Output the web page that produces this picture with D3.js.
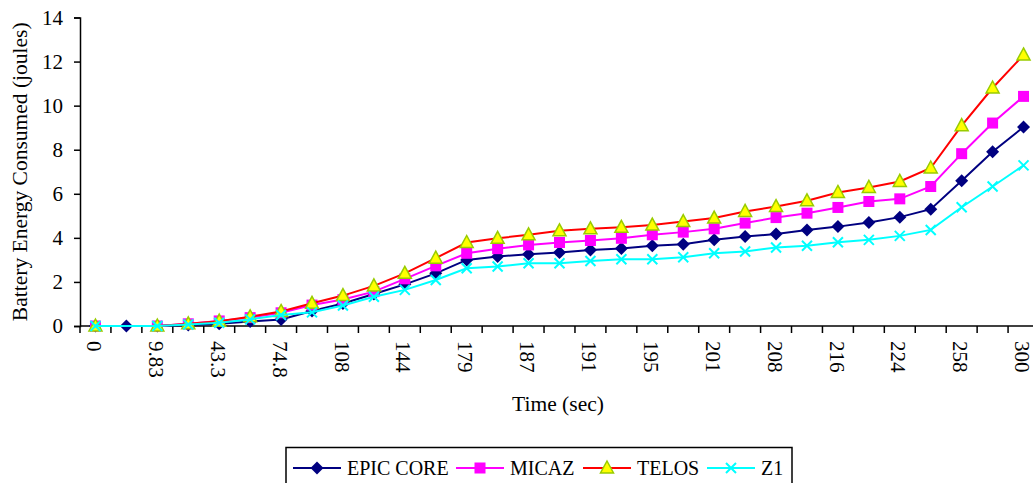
<!DOCTYPE html>
<html>
<head>
<meta charset="utf-8">
<script src="https://cdn.jsdelivr.net/npm/d3@7/dist/d3.min.js"></script>
<style>
  html, body { margin: 0; padding: 0; background: #fff; }
  svg { display: block; }
  text { font-family: "Liberation Serif", "Times New Roman", serif; fill: #000; }
</style>
</head>
<body>
<svg id="chart"></svg>
<script>
// ── Data ─────────────────────────────────────────────
// 31 time samples; only every other one carries a label on the axis
const timeLabels = ['0', '', '9.83', '', '43.3', '', '74.8', '', '108', '', '144', '',
                    '179', '', '187', '', '191', '', '195', '', '201', '', '208', '',
                    '216', '', '224', '', '258', '', '300'];

const epicCore = [0, 0, 0, 0.05, 0.1, 0.2, 0.3, 0.68, 1.02, 1.45, 1.89, 2.39, 3.0, 3.15, 3.26, 3.33,
                  3.45, 3.52, 3.64, 3.71, 3.91, 4.06, 4.17, 4.36, 4.51, 4.7, 4.94, 5.3, 6.59, 7.91, 9.03];
const micaz    = [0, null, 0, 0.1, 0.23, 0.38, 0.6, 0.95, 1.2, 1.56, 2.14, 2.73, 3.3, 3.51, 3.68, 3.79,
                  3.88, 3.98, 4.14, 4.26, 4.41, 4.67, 4.92, 5.12, 5.38, 5.65, 5.77, 6.33, 7.82, 9.21, 10.42];
const telos    = [0, null, 0, 0.1, 0.22, 0.42, 0.66, 1.03, 1.38, 1.82, 2.39, 3.08, 3.79, 3.98, 4.14, 4.32,
                  4.41, 4.48, 4.58, 4.74, 4.9, 5.2, 5.42, 5.68, 6.06, 6.29, 6.56, 7.17, 9.09, 10.8, 12.3];
const z1       = [0, null, 0, 0.07, 0.15, 0.3, 0.5, 0.62, 0.93, 1.33, 1.64, 2.09, 2.62, 2.7, 2.85, 2.85,
                  2.95, 3.03, 3.03, 3.12, 3.3, 3.38, 3.56, 3.64, 3.8, 3.91, 4.09, 4.36, 5.39, 6.33, 7.29];

const yTicks = [0, 2, 4, 6, 8, 10, 12, 14];

const series = [
  { name: 'EPIC CORE', values: epicCore, color: '#000080', marker: 'diamond' },
  { name: 'MICAZ',     values: micaz,    color: '#ff00ff', marker: 'square' },
  { name: 'TELOS',     values: telos,    color: '#ff0000', marker: 'triangle' },
  { name: 'Z1',        values: z1,       color: '#00ffff', marker: 'cross' },
];

// ── Layout ───────────────────────────────────────────
const W = 1033, H = 483;
const plotLeft = 80, plotTop = 17.5, plotBottom = 326, plotRight = 1039;

const svg = d3.select('#chart').attr('width', W).attr('height', H);

const x = d3.scaleBand()
  .domain(d3.range(timeLabels.length))
  .range([plotLeft, plotRight])
  .paddingInner(0).paddingOuter(0);
const cx = i => x(i) + x.bandwidth() / 2;

const y = d3.scaleLinear().domain([0, 14]).range([plotBottom, plotTop]);

// ── Y axis ───────────────────────────────────────────
const yAxis = svg.append('g')
  .attr('transform', `translate(${plotLeft},0)`)
  .call(d3.axisLeft(y).tickValues(yTicks).tickSize(6).tickPadding(11).tickFormat(d3.format('d')));
yAxis.select('.domain').attr('stroke', '#000').attr('stroke-width', 1.5);
yAxis.selectAll('.tick line').attr('stroke', '#000').attr('stroke-width', 1.5);
yAxis.selectAll('.tick text')
  .attr('font-size', 21).attr('font-family', '"Liberation Serif", serif').attr('fill', '#000');

svg.append('text')
  .attr('transform', `translate(27,${(plotTop + plotBottom) / 2}) rotate(-90)`)
  .attr('text-anchor', 'middle')
  .attr('font-size', 21.5)
  .text('Battery Energy Consumed (joules)');

// ── X axis (category ticks between points) ───────────
const xAxisG = svg.append('g');
xAxisG.append('line')
  .attr('x1', plotLeft).attr('x2', W)
  .attr('y1', plotBottom).attr('y2', plotBottom)
  .attr('stroke', '#000').attr('stroke-width', 1.5);

xAxisG.selectAll('line.tick')
  .data(d3.range(timeLabels.length + 1))
  .join('line')
    .attr('class', 'tick')
    .attr('x1', i => (i < timeLabels.length ? x(i) : plotRight))
    .attr('x2', i => (i < timeLabels.length ? x(i) : plotRight))
    .attr('y1', plotBottom).attr('y2', plotBottom + 7)
    .attr('stroke', '#000').attr('stroke-width', 1.5);

xAxisG.selectAll('text')
  .data(timeLabels.map((t, i) => ({ t, i })).filter(d => d.t !== ''))
  .join('text')
    .attr('transform', d => `translate(${cx(d.i)},${plotBottom + 15}) rotate(90)`)
    .attr('dy', '0.4em')
    .attr('font-size', 21)
    .text(d => d.t);

svg.append('text')
  .attr('x', 558).attr('y', 411)
  .attr('text-anchor', 'middle')
  .attr('font-size', 21.5)
  .text('Time (sec)');

// ── Markers ──────────────────────────────────────────
function drawMarker(g, type, color) {
  if (type === 'diamond') {
    g.append('path').attr('d', 'M0,-6.5L6.5,0L0,6.5L-6.5,0Z').attr('fill', color);
  } else if (type === 'square') {
    g.append('rect').attr('x', -5.5).attr('y', -5.5).attr('width', 11).attr('height', 11).attr('fill', color);
  } else if (type === 'triangle') {
    g.append('path').attr('d', 'M0,-7L6.5,5L-6.5,5Z')
      .attr('fill', '#ffff00').attr('stroke', '#99cc00').attr('stroke-width', 1.5);
  } else if (type === 'cross') {
    g.append('path').attr('d', 'M-5,-5L5,5M-5,5L5,-5')
      .attr('stroke', color).attr('stroke-width', 2).attr('fill', 'none');
  }
}

// ── Series lines ─────────────────────────────────────
const line = d3.line().x(d => cx(d.i)).y(d => y(d.v));

series.forEach(s => {
  const pts = s.values.map((v, i) => ({ v, i })).filter(d => d.v != null);
  const g = svg.append('g');
  g.append('path')
    .attr('d', line(pts))
    .attr('fill', 'none')
    .attr('stroke', s.color)
    .attr('stroke-width', 2);
  pts.forEach(p => {
    const m = g.append('g').attr('transform', `translate(${cx(p.i)},${y(p.v)})`);
    drawMarker(m, s.marker, s.color);
  });
});

// ── Legend ───────────────────────────────────────────
const legend = svg.append('g');
legend.append('rect')
  .attr('x', 286).attr('y', 447.5)
  .attr('width', 506).attr('height', 45)
  .attr('fill', '#fff').attr('stroke', '#000').attr('stroke-width', 1.5);

const legendX = [293, 456, 583, 707];
series.forEach((s, k) => {
  const lx = legendX[k], ly = 468;
  legend.append('line')
    .attr('x1', lx).attr('x2', lx + 48)
    .attr('y1', ly).attr('y2', ly)
    .attr('stroke', s.color).attr('stroke-width', 2);
  const m = legend.append('g').attr('transform', `translate(${lx + 24},${ly})`);
  drawMarker(m, s.marker, s.color);
  legend.append('text')
    .attr('x', lx + 54).attr('y', ly + 7)
    .attr('font-size', 20)
    .text(s.name);
});
</script>
</body>
</html>
